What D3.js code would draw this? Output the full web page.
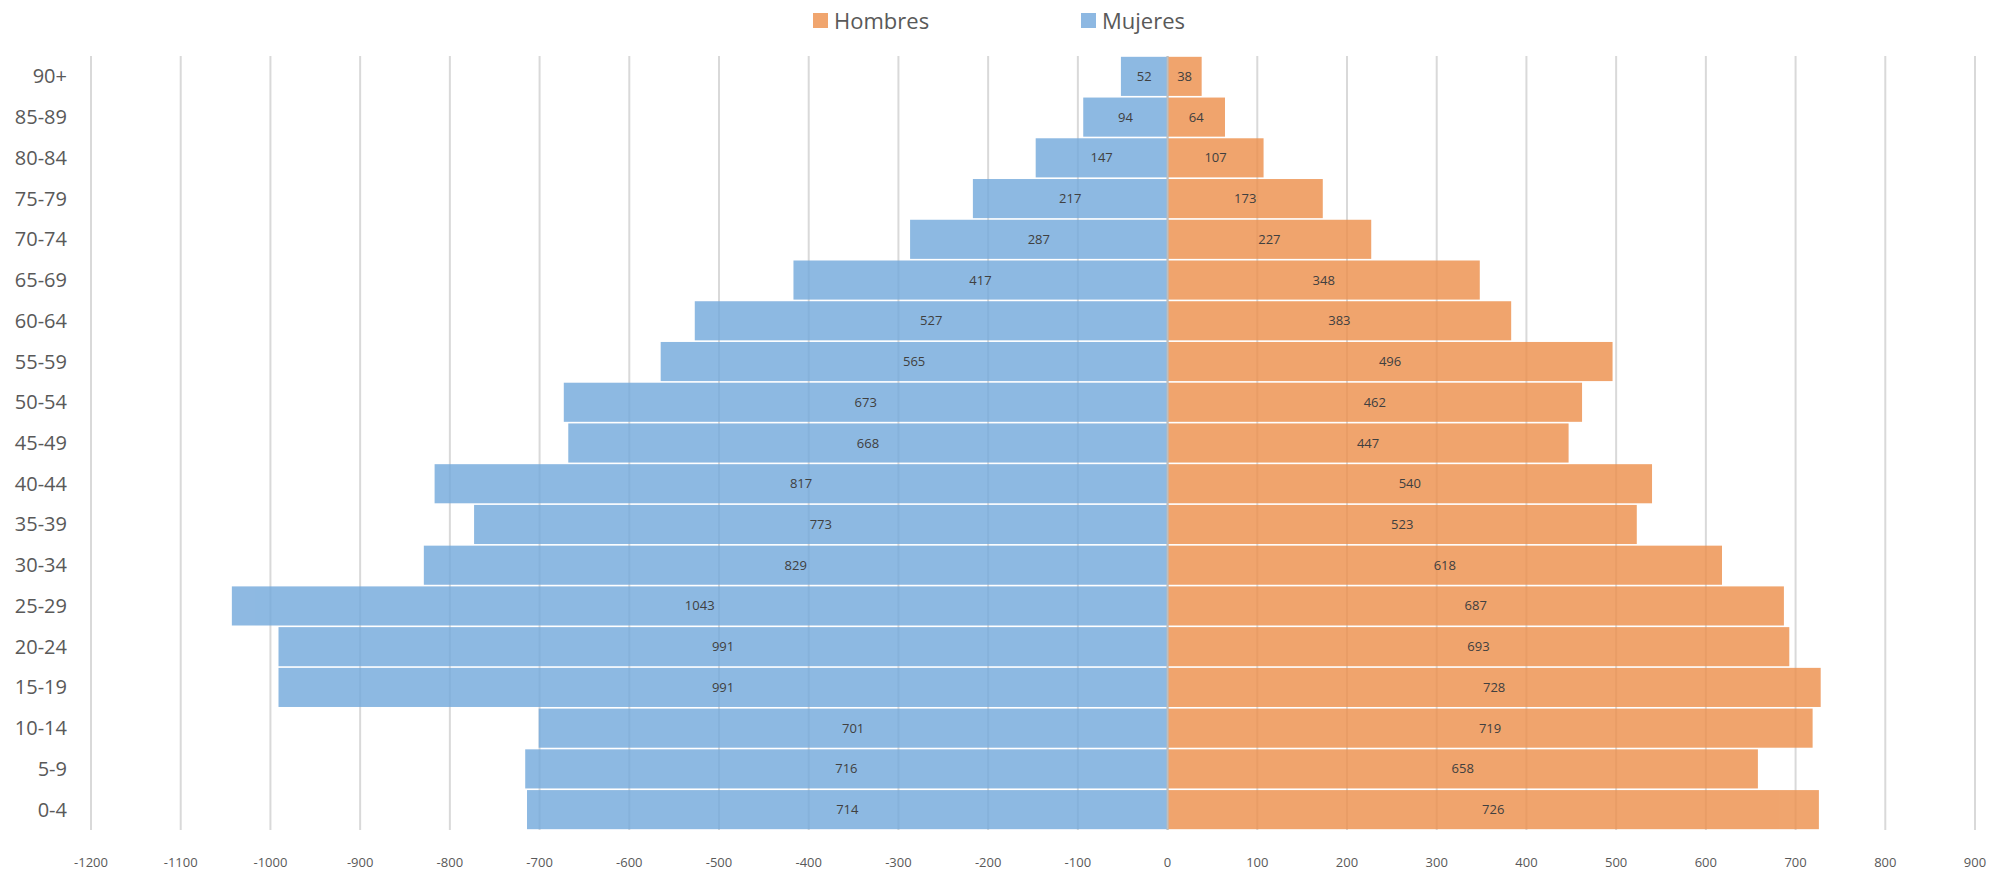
<!DOCTYPE html>
<html>
<head>
<meta charset="utf-8">
<script src="https://cdn.jsdelivr.net/npm/d3@7"></script>
<style>
  body { margin: 0; background: #fff; }
  svg { display: block; font-family: "Open Sans", "Noto Sans", sans-serif; }
</style>
</head>
<body>
<svg id="chart" width="1992" height="872"></svg>
<script>
// grupos de edad (de abajo hacia arriba)
const ages = ["0-4", "5-9", "10-14", "15-19", "20-24", "25-29", "30-34", "35-39", "40-44",
  "45-49", "50-54", "55-59", "60-64", "65-69", "70-74", "75-79", "80-84", "85-89", "90+"];
const mujeres = [714, 716, 701, 991, 991, 1043, 829, 773, 817, 668, 673, 565, 527, 417, 287, 217, 147, 94, 52];
const hombres = [726, 658, 719, 728, 693, 687, 618, 523, 540, 447, 462, 496, 383, 348, 227, 173, 107, 64, 38];
const xTicks = d3.range(-1200, 901, 100);

const svg = d3.select("#chart");
const plotLeft = 91, plotRight = 1975, plotTop = 56, plotBottom = 830;

const x = d3.scaleLinear().domain([-1200, 900]).range([plotLeft, plotRight]);
const y = d3.scaleBand().domain(ages.slice().reverse()).range([plotTop, plotBottom]).paddingInner(0.04).paddingOuter(0.02);

// rejilla vertical
svg.append("g").selectAll("line")
  .data(xTicks)
  .join("line")
  .attr("x1", d => x(d)).attr("x2", d => x(d))
  .attr("y1", plotTop).attr("y2", plotBottom)
  .attr("stroke", "#d9d9d9")
  .attr("stroke-width", 2);

// barras semitransparentes para que la rejilla se vea por detrás
const rows = ages.map((a, i) => ({ age: a, m: mujeres[i], h: hombres[i] }));
const bars = svg.append("g").attr("opacity", 0.82);

bars.selectAll("rect.m")
  .data(rows)
  .join("rect")
  .attr("class", "m")
  .attr("x", d => x(-d.m))
  .attr("width", d => x(0) - x(-d.m))
  .attr("y", d => y(d.age))
  .attr("height", y.bandwidth())
  .attr("fill", "rgb(117,170,220)");

bars.selectAll("rect.h")
  .data(rows)
  .join("rect")
  .attr("class", "h")
  .attr("x", x(0))
  .attr("width", d => x(d.h) - x(0))
  .attr("y", d => y(d.age))
  .attr("height", y.bandwidth())
  .attr("fill", "rgb(237,145,78)");

// línea del cero
svg.append("line")
  .attr("x1", x(0)).attr("x2", x(0))
  .attr("y1", plotTop).attr("y2", plotBottom)
  .attr("stroke", "#bfbfbf")
  .attr("stroke-width", 2);

// etiquetas de valores
const labels = svg.append("g")
  .attr("font-size", 13)
  .attr("fill", "#404040")
  .attr("text-anchor", "middle");

labels.selectAll("text.m")
  .data(rows)
  .join("text")
  .attr("class", "m")
  .attr("x", d => (x(-d.m) + x(0)) / 2)
  .attr("y", d => y(d.age) + y.bandwidth() / 2)
  .attr("dy", "0.35em")
  .text(d => d.m);

labels.selectAll("text.h")
  .data(rows)
  .join("text")
  .attr("class", "h")
  .attr("x", d => (x(d.h) + x(0)) / 2)
  .attr("y", d => y(d.age) + y.bandwidth() / 2)
  .attr("dy", "0.35em")
  .text(d => d.h);

// eje de categorías
svg.append("g").selectAll("text")
  .data(ages)
  .join("text")
  .attr("x", 67)
  .attr("y", d => y(d) + y.bandwidth() / 2)
  .attr("dy", "0.35em")
  .attr("text-anchor", "end")
  .attr("font-size", 20)
  .attr("fill", "#595959")
  .text(d => d);

// eje x
svg.append("g").selectAll("text")
  .data(xTicks)
  .join("text")
  .attr("x", d => x(d))
  .attr("y", 862)
  .attr("dy", "0.35em")
  .attr("text-anchor", "middle")
  .attr("font-size", 13)
  .attr("fill", "#595959")
  .text(d => d);

// leyenda
const legend = [
  { name: "Hombres", color: "rgb(240,165,110)", x: 813 },
  { name: "Mujeres", color: "rgb(141,184,226)", x: 1081 }
];
const lg = svg.append("g").selectAll("g").data(legend).join("g");
lg.append("rect")
  .attr("x", d => d.x).attr("y", 13)
  .attr("width", 15).attr("height", 15)
  .attr("fill", d => d.color);
lg.append("text")
  .attr("x", d => d.x + 21)
  .attr("y", 21)
  .attr("dy", "0.35em")
  .attr("font-size", 22)
  .attr("fill", "#595959")
  .text(d => d.name);
</script>
</body>
</html>
